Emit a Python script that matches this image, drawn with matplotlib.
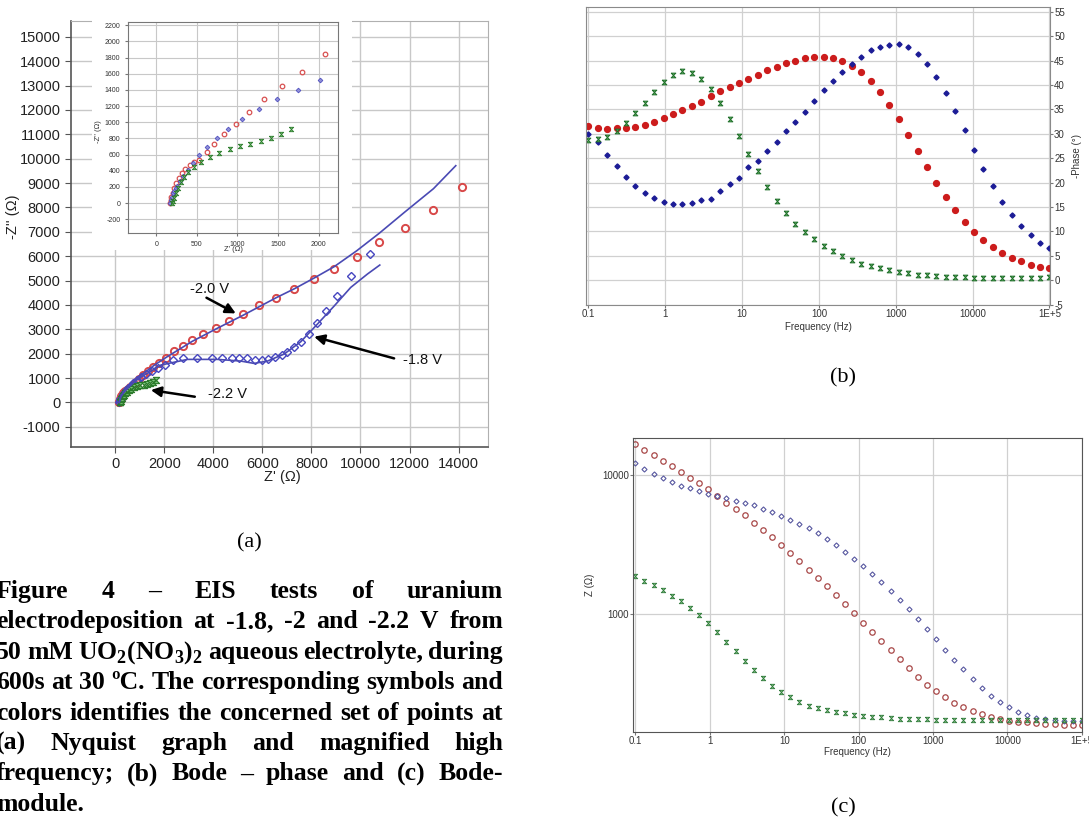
import matplotlib
matplotlib.use('Agg')
import matplotlib.pyplot as plt
from matplotlib.patches import Rectangle
from matplotlib.ticker import NullLocator

plt.rcParams['font.family'] = ['Liberation Sans', 'DejaVu Sans']
plt.rcParams['axes.unicode_minus'] = False
plt.rcParams['mathtext.fontset'] = 'custom'
plt.rcParams['mathtext.rm'] = 'Liberation Serif:bold'

# ---------------- Nyquist data (a) ----------------
# -2.0 V, red circles
red_zr = [170, 176, 186, 200, 220, 245, 275, 312, 358, 410, 468, 527, 621, 716, 835, 979,
          1148, 1329, 1551, 1794, 2078, 2405, 2772, 3139, 3601, 4103, 4660, 5231, 5870,
          6563, 7310, 8111, 8927, 9851, 10761, 11807, 12975, 14130]
red_zi = [0, 35, 80, 130, 190, 250, 310, 370, 425, 470, 505, 536, 627, 730, 854, 977,
          1126, 1282, 1452, 1625, 1839, 2093, 2312, 2544, 2804, 3064, 3338, 3625, 3981,
          4295, 4665, 5075, 5486, 5978, 6580, 7168, 7893, 8823]
# -1.8 V, blue diamonds
blue_zr = [170, 180, 192, 206, 222, 240, 259, 292, 333, 387, 449, 527, 630, 745, 889, 1062,
           1263, 1486, 1741, 2012, 2378, 2785, 3356, 3954, 4348, 4755, 5068, 5394, 5720,
           6005, 6250, 6522, 6793, 7011, 7296, 7582, 7894, 8220, 8614, 9062, 9633, 10380]
blue_zi = [0, 40, 80, 120, 155, 182, 206, 268, 338, 412, 495, 590, 693, 800, 915, 1043,
           1163, 1287, 1402, 1518, 1737, 1806, 1833, 1819, 1833, 1806, 1806, 1806, 1724,
           1751, 1778, 1847, 1943, 2066, 2257, 2462, 2791, 3242, 3762, 4378, 5185, 6074]
# -2.2 V, green hourglasses
green_zr = [190, 202, 218, 243, 272, 305, 346, 395, 465, 551, 658, 774, 905, 1029, 1160,
            1296, 1412, 1531, 1663]
green_zi = [2, 21, 62, 124, 186, 256, 322, 384, 445, 503, 569, 623, 672, 709, 734, 767,
            804, 854, 915]
# fitted curves
fit20_zr = [165, 230, 400, 700, 1100, 1600, 2079, 3139, 4103, 5231, 6563, 7310, 8111,
            8927, 9851, 10761, 11807, 12976, 13886]
fit20_zi = [0, 250, 520, 800, 1150, 1530, 1847, 2503, 3010, 3584, 4295, 4665, 5103,
            5568, 6224, 6936, 7811, 8769, 9713]
fit18_zr = [165, 230, 330, 530, 800, 1100, 1500, 1861, 2948, 4171, 5122, 5666, 6209,
            6889, 7568, 8247, 8927, 9606, 10285, 10788]
fit18_zi = [0, 230, 380, 600, 860, 1070, 1300, 1532, 1765, 1765, 1696, 1600, 1696,
            1984, 2490, 3215, 3953, 4720, 5267, 5636]

# ---------------- Bode data (b), (c) ----------------
freq = [0.1, 0.1326, 0.1758, 0.2330, 0.3089, 0.4095, 0.5429, 0.7197, 0.9541, 1.265,
        1.677, 2.223, 2.947, 3.907, 5.179, 6.866, 9.103, 12.07, 16.00, 21.21,
        28.12, 37.28, 49.42, 65.51, 86.85, 115.1, 152.6, 202.4, 268.3, 355.6,
        471.5, 625.1, 828.7, 1099, 1456, 1931, 2560, 3393, 4498, 5964,
        7906, 10481, 13895, 18421, 24421, 32375, 42919, 56899, 75431, 100000]

phase_red = [31.6, 31.1, 31.0, 31.2, 31.1, 31.4, 31.8, 32.5, 33.2, 34.0,
             34.9, 35.8, 36.6, 37.7, 38.8, 39.5, 40.5, 41.3, 42.0, 43.0,
             43.8, 44.5, 45.0, 45.5, 45.7, 45.8, 45.5, 44.9, 44.0, 42.6,
             40.9, 38.6, 36.0, 33.0, 29.8, 26.5, 23.2, 19.9, 17.0, 14.3,
             12.0, 9.9, 8.2, 6.8, 5.5, 4.5, 4.0, 3.2, 2.7, 2.5]
phase_blue = [30.0, 28.3, 25.7, 23.5, 21.2, 19.4, 17.9, 16.9, 16.1, 15.6,
              15.7, 15.9, 16.4, 16.6, 18.3, 19.7, 21.0, 23.2, 24.5, 26.5,
              28.3, 30.5, 32.5, 34.5, 36.8, 39.0, 40.8, 42.7, 44.3, 45.8,
              47.1, 47.9, 48.3, 48.4, 47.7, 46.3, 44.4, 41.6, 38.4, 34.7,
              30.7, 26.6, 22.7, 19.2, 16.1, 13.3, 11.1, 9.2, 7.7, 6.5]
phase_green = [28.7, 29.0, 29.4, 30.6, 32.3, 34.2, 36.4, 38.6, 40.6, 42.1,
               42.8, 42.4, 41.3, 39.2, 36.4, 33.1, 29.5, 25.8, 22.4, 19.0,
               16.2, 13.8, 11.6, 9.9, 8.4, 7.0, 6.0, 4.9, 4.1, 3.4,
               2.9, 2.4, 2.0, 1.7, 1.4, 1.1, 1.0, 0.75, 0.7, 0.6,
               0.55, 0.5, 0.5, 0.4, 0.4, 0.5, 0.5, 0.5, 0.5, 0.55]

mod_red = [16690, 15120, 13770, 12600, 11480, 10450, 9465, 8666, 7848, 7069,
           6295, 5670, 5107, 4524, 4030, 3569, 3128, 2755, 2401, 2092,
           1834, 1589, 1377, 1187, 1017, 871, 747, 644, 551, 475,
           410, 357, 314, 282, 254, 232, 216, 202, 192, 184,
           178, 173, 170, 168, 166, 164, 163, 162, 162, 162]
mod_blue = [12060, 10980, 10110, 9413, 8858, 8338, 7978, 7636, 7306, 7069,
            6799, 6507, 6262, 6025, 5670, 5397, 5078, 4754, 4424, 4120,
            3793, 3472, 3128, 2802, 2509, 2223, 1948, 1697, 1479, 1268,
            1086, 926, 785, 662, 558, 473, 403, 345, 298, 261,
            236, 216, 201, 189, 182, 177, 174, 172, 172, 171]
mod_green = [1895, 1744, 1615, 1495, 1361, 1240, 1116, 984, 862, 743,
             637, 543, 465, 399, 347, 306, 276, 254, 235, 222,
             213, 206, 199, 195, 191, 187, 185, 183, 181, 178,
             178, 177, 177, 176, 176, 176, 176, 176, 176, 176,
             176, 176, 176, 176, 176, 176, 176, 176, 176, 176]

freq_ticks = [0.1, 1, 10, 100, 1000, 10000, 100000]
freq_labels = ['0.1', '1', '10', '100', '1000', '10000', '1E+5']

caption_lines = [
    "Figure 4 – EIS tests of uranium",
    "electrodeposition at -1.8, -2 and -2.2 V from",
    "50 mM UO$_2$(NO$_3$)$_2$ aqueous electrolyte, during",
    "600s at 30 ºC. The corresponding symbols and",
    "colors identifies the concerned set of points at",
    "(a) Nyquist graph and magnified high",
    "frequency; (b) Bode – phase and (c) Bode-",
    "module.",
]

hourglass = [(-1, 1), (1, 1), (-1, -1), (1, -1), (-1, 1)]

W, H = 1089, 821
fig = plt.figure(figsize=(W / 100, H / 100), dpi=100)


def box(l, t, r, b):
    return [l / W, 1 - b / H, (r - l) / W, (b - t) / H]


# ---------------- (a) Nyquist ----------------
ax = fig.add_axes(box(71, 21, 488, 447))
ax.plot(red_zr, red_zi, 'o', ms=5.2, mfc='none', mec='#d84848', mew=1.4, zorder=3)
ax.plot(blue_zr, blue_zi, 'D', ms=3.8, mfc='none', mec='#4646c0', mew=1.0, zorder=3)
ax.plot(green_zr, green_zi, marker=hourglass, ls='none', ms=4.5, mfc='#7cc47c',
        mec='#2a7a2a', mew=0.8, zorder=4)
ax.plot(fit20_zr, fit20_zi, '-', color='#4a4ab4', lw=1.2, zorder=5)
ax.plot(fit18_zr, fit18_zi, '-', color='#4a4ab4', lw=1.2, zorder=5)
ax.set_xlim(-1800, 15200)
ax.set_ylim(-1830, 15650)
ax.set_xticks(range(0, 14001, 2000))
ax.set_yticks(range(-1000, 15001, 1000))
ax.xaxis.set_minor_locator(NullLocator())
ax.grid(True, color='#c8c8c8', lw=1.0)
ax.set_axisbelow(True)
ax.tick_params(labelsize=10.5, length=4, color='#555555', labelcolor='#222222')
for s in ['left', 'bottom']:
    ax.spines[s].set_color('#555555')
    ax.spines[s].set_linewidth(1.2)
for s in ['top', 'right']:
    ax.spines[s].set_color('#b0b0b0')
ax.set_xlabel("Z' (Ω)", fontsize=10.5, color='#222222')
ax.set_ylabel("-Z'' (Ω)", fontsize=10.5, color='#222222')
ax.xaxis.set_label_coords(0.506, -0.055)
ax.yaxis.set_label_coords(-0.122, 0.54)

# labels and arrows
arrow = dict(arrowstyle='-|>', color='black', lw=1.8, mutation_scale=15,
             shrinkA=0, shrinkB=0)
for lab, tx, ty in [('-2.0 V', 3830, 4640), ('-1.8 V', 12530, 1737), ('-2.2 V', 4580, 342)]:
    ax.text(tx, ty, lab, fontsize=10.5, ha='center', va='center', color='#111111')
for tail, head in [((3723, 4295), (4918, 3652)), ((11372, 1806), (8111, 2695)),
                   ((3247, 233), (1454, 506))]:
    ax.annotate('', xy=head, xytext=tail, arrowprops=arrow, zorder=6)

# white patch behind the inset
ax.add_patch(Rectangle((92 / W, 1 - 250 / H), 260 / W, 250 / H, transform=fig.transFigure,
                       facecolor='white', edgecolor='none', zorder=10, clip_on=False))

# inset
axi = fig.add_axes(box(128, 22, 338, 233))
axi.plot(red_zr, red_zi, 'o', ms=3.3, mfc='none', mec='#d85050', mew=0.9)
axi.plot(blue_zr, blue_zi, 'D', ms=2.4, mfc='#9090d8', mec='#5050c0', mew=0.6)
axi.plot(green_zr, green_zi, marker=hourglass, ls='none', ms=3.2, mfc='#7cc47c',
         mec='#2a7a2a', mew=0.6)
axi.set_xlim(-350, 2240)
axi.set_ylim(-370, 2240)
axi.set_xticks(range(0, 2001, 500))
axi.set_yticks(range(-200, 2201, 200))
axi.grid(True, color='#c8c8c8', lw=0.8)
axi.set_axisbelow(True)
axi.tick_params(labelsize=5, length=2, color='#777777', labelcolor='#333333')
for s in axi.spines.values():
    s.set_color('#777777')
axi.set_xlabel("Z' (Ω)", fontsize=5.5, color='#333333')
axi.set_ylabel("-Z'' (Ω)", fontsize=5.5, color='#333333')
axi.xaxis.set_label_coords(0.5, -0.06)
axi.yaxis.set_label_coords(-0.125, 0.48)

# ---------------- (b) Bode phase ----------------
axb = fig.add_axes(box(586, 7, 1050, 305))
axb.plot(freq, phase_red, 'o', ms=4.2, color='#cc1c1c')
axb.plot(freq, phase_blue, 'D', ms=2.6, color='#1c1c96')
axb.plot(freq, phase_green, marker=hourglass, ls='none', ms=3.4, mfc='#66b866',
         mec='#1f6e2a', mew=0.7)
axb.set_xscale('log')
axb.set_xlim(0.093, 102000)
axb.set_ylim(-5.1, 56)
axb.set_xticks(freq_ticks)
axb.set_xticklabels(freq_labels)
axb.xaxis.set_minor_locator(NullLocator())
axb.set_yticks(range(-5, 56, 5))
axb.yaxis.tick_right()
axb.yaxis.set_label_position('right')
axb.grid(True, color='#d0d0d0', lw=0.9)
axb.set_axisbelow(True)
axb.tick_params(labelsize=7, length=2, color='#777777', labelcolor='#333333', pad=1)
for s in axb.spines.values():
    s.set_color('#8a8a8a')
axb.set_xlabel('Frequency (Hz)', fontsize=7, color='#333333')
axb.set_ylabel('-Phase (°)', fontsize=7, color='#333333')
axb.xaxis.set_label_coords(0.5, -0.057)
axb.yaxis.set_label_coords(1.047, 0.5)

# ---------------- (c) Bode modulus ----------------
axc = fig.add_axes(box(633, 438, 1082, 732))
axc.plot(freq, mod_red, 'o', ms=3.9, mfc='none', mec='#a84848', mew=0.9)
axc.plot(freq, mod_blue, 'D', ms=2.6, mfc='none', mec='#5858a0', mew=0.8)
axc.plot(freq, mod_green, marker=hourglass, ls='none', ms=3.2, mfc='#8ac88a',
         mec='#2f7a3a', mew=0.6)
axc.set_xscale('log')
axc.set_yscale('log')
axc.set_xlim(0.093, 100300)
axc.set_ylim(143.6, 18300)
axc.set_xticks(freq_ticks)
axc.set_xticklabels(freq_labels)
axc.set_yticks([1000, 10000])
axc.set_yticklabels(['1000', '10000'])
axc.xaxis.set_minor_locator(NullLocator())
axc.yaxis.set_minor_locator(NullLocator())
axc.grid(True, color='#d0d0d0', lw=0.9)
axc.set_axisbelow(True)
axc.tick_params(labelsize=7, length=2, color='#777777', labelcolor='#333333', pad=1)
for s in axc.spines.values():
    s.set_color('#555555')
axc.set_xlabel('Frequency (Hz)', fontsize=7, color='#333333')
axc.set_ylabel('Z (Ω)', fontsize=7, color='#333333')
axc.xaxis.set_label_coords(0.5, -0.052)
axc.yaxis.set_label_coords(-0.085, 0.5)

# ---------------- panel labels ----------------
for lab, x, y in [('(a)', 249, 543), ('(b)', 843, 378), ('(c)', 843, 808)]:
    fig.text(x / W, 1 - y / H, lab, fontsize=16, family='Liberation Serif',
             ha='center', va='center')

# ---------------- justified caption ----------------
renderer = fig.canvas.get_renderer()
x_left, x_right = -4, 503
for i, line in enumerate(caption_lines):
    words = line.split(' ')
    yb = 1 - (598 + i * 30.4) / H
    arts = [fig.text(0, yb, w, fontsize=18.5, fontweight='bold', family='Liberation Serif',
                     va='baseline') for w in words]
    widths = [a.get_window_extent(renderer).width for a in arts]
    if i == len(caption_lines) - 1 or len(words) == 1:
        gap = 6
    else:
        gap = (x_right - x_left - sum(widths)) / (len(words) - 1)
    x = x_left
    for a, w in zip(arts, widths):
        a.set_x(x / W)
        x += w + gap

fig.savefig('out.png', dpi=100)
